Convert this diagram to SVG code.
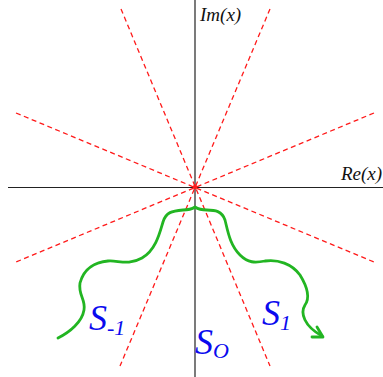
<svg xmlns="http://www.w3.org/2000/svg" width="383" height="377" viewBox="0 0 383 377">
<style>
.axis{stroke:#222;stroke-width:1.2;fill:none}
.ray{stroke:#ff1a1a;stroke-width:1.3;stroke-dasharray:5,3.5;fill:none}
.curve{stroke:#22b522;stroke-width:2.8;fill:none;stroke-linecap:round;stroke-linejoin:round}
.ax{font-family:"Liberation Serif",serif;font-style:italic;font-size:19px;fill:#111}
.s{font-family:"Liberation Serif",serif;font-style:italic;font-size:36px;fill:#0a0aee}
.sub{font-size:22px}
</style>
<rect width="383" height="377" fill="#fff"/>
<g id="axes">
<line class="axis" x1="8" y1="187.5" x2="383" y2="187.5"/>
<line class="axis" x1="195" y1="0" x2="195" y2="377"/>
<text class="ax" x="200" y="21">Im(x)</text>
<text class="ax" x="341" y="180">Re(x)</text>
</g>
<g id="rays">
<line class="ray" x1="270" y1="9" x2="120" y2="366"/>
<line class="ray" x1="121" y1="9" x2="270" y2="366"/>
<line class="ray" x1="374" y1="113" x2="16" y2="262"/>
<line class="ray" x1="16" y1="113" x2="374" y2="262"/>
<circle cx="195" cy="187" r="2.2" fill="#ff1a1a"/>
</g>
<g id="connectors">
<path class="curve" d="M58,338 C70,332 82,322 84,310 C86,300 78,295 80,283 C84,268 96,262 108,261 C118,260 128,266 142,258 C156,250 160,232 163,222 C166,212 172,211 183,210 C188,210 192,209 195,207 C198,209 202,210 207,210 C215,210 222,211 225,220 C228,232 230,245 240,255 C248,263 255,263 265,261 C278,259 292,264 300,275 C308,288 310,298 305,305 C300,313 304,326 322,336"/>
<path class="curve" d="M317,327 L323,337 L312,337"/>
</g>
<g id="labels">
<text class="s" x="89" y="330">S<tspan class="sub" dy="5">-1</tspan></text>
<text class="s" x="262" y="325">S<tspan class="sub" dy="5">1</tspan></text>
<text class="s" x="195" y="354">S<tspan class="sub" dy="4">O</tspan></text>
</g>
</svg>
